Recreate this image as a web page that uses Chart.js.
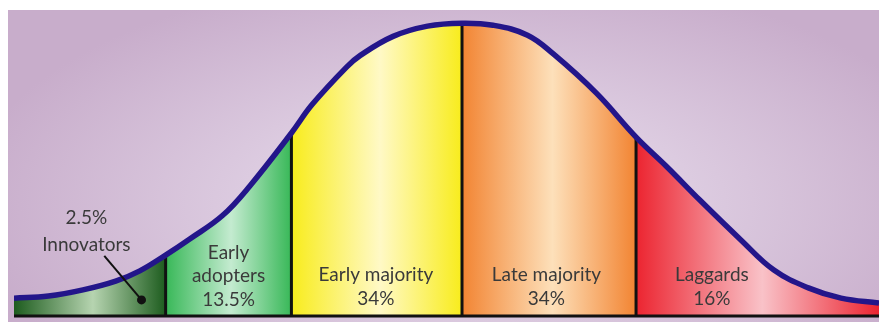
<!DOCTYPE html>
<html>
<head>
<meta charset="utf-8">
<script src="https://cdn.jsdelivr.net/npm/chart.js@4"></script>
<style>
  html, body { margin: 0; padding: 0; background: #fff; }
  #wrap {
    position: absolute; left: 8px; top: 10px; width: 871px; height: 312px;
    background: radial-gradient(ellipse 58% 75% at 53% 62%, #ece2ef 0%, #dccbe0 45%, #c8adcb 100%);
  }
</style>
</head>
<body>
<div id="wrap"><canvas id="curveChart"></canvas></div>
<script>
// adopter categories, left to right
const categories = ['Innovators', 'Early adopters', 'Early majority', 'Late majority', 'Laggards'];
const shares = ['2.5%', '13.5%', '34%', '34%', '16%'];
// x-axis (std. deviations from mean) where each category starts/ends
const bounds = [-2.60, -1.72, -0.99, 0, 1.01, 2.42];

// bell curve (x in std. devs, y relative to peak)
const curveX = [-2.60, -2.40, -2.20, -2.01, -1.87, -1.72, -1.58, -1.39, -1.23, -0.99, -0.87, -0.67, -0.59, -0.40, -0.20, 0, 0.18, 0.38, 0.53, 0.78, 1.01, 1.19, 1.38, 1.62, 1.81, 2.01, 2.20, 2.42];
const curveY = [0.061, 0.068, 0.089, 0.119, 0.154, 0.208, 0.263, 0.343, 0.445, 0.625, 0.722, 0.850, 0.890, 0.955, 0.990, 1.000, 0.993, 0.959, 0.895, 0.761, 0.611, 0.509, 0.396, 0.259, 0.157, 0.096, 0.061, 0.044];

// gradient colours per category: edge, highlight
const edgeColors = ['#1d5c1e', '#38b858', '#f8ec1c', '#f28432', '#ec2430'];
const lightColors = ['#b6d4b0', '#c4ebd0', '#fff9c6', '#fde0ba', '#f9c2c8'];

// label layout (x in axis units, y for each text line)
const labelX = [-2.18, -1.355, -0.50, 0.49, 1.45];
const labelLines = [
  [[shares[0], 0.334], ['Innovators', 0.242]],
  [['Early', 0.215], ['adopters', 0.137], [shares[1], 0.055]],
  [['Early majority', 0.14], [shares[2], 0.058]],
  [['Late majority', 0.14], [shares[3], 0.058]],
  [['Laggards', 0.14], [shares[4], 0.058]]
];

const curve = curveX.map((x, i) => ({ x, y: curveY[i] }));

function heightAt(x) {
  const p = curve.find(pt => pt.x === x);
  return p ? p.y : 0;
}

function bandGradient(ctx) {
  const chart = ctx.chart;
  const area = chart.chartArea;
  if (!area) return null;
  const xs = chart.scales.x;
  const w = area.right - area.left;
  const g = chart.ctx.createLinearGradient(area.left, 0, area.right, 0);
  const f = v => Math.min(1, Math.max(0, (xs.getPixelForValue(v) - area.left) / w));
  for (let i = 0; i < categories.length; i++) {
    const a = f(bounds[i]), b = f(bounds[i + 1]);
    g.addColorStop(a, edgeColors[i]);
    g.addColorStop(a + (b - a) * 0.52, lightColors[i]);
    g.addColorStop(b, edgeColors[i]);
  }
  return g;
}

const dividers = bounds.slice(1, -1).map(b => ({
  data: [{ x: b, y: 0 }, { x: b, y: heightAt(b) }],
  borderColor: '#111',
  borderWidth: 3,
  pointRadius: 0,
  fill: false,
  order: 1
}));

const labelPlugin = {
  id: 'labels',
  afterDatasetsDraw(chart) {
    const { ctx, scales: { x, y } } = chart;
    ctx.save();
    // pointer from "Innovators" into the innovators band
    const x0 = x.getPixelForValue(-2.076), y0 = y.getPixelForValue(0.205);
    const x1 = x.getPixelForValue(-1.86), y1 = y.getPixelForValue(0.055);
    ctx.strokeStyle = '#111';
    ctx.lineWidth = 2;
    ctx.beginPath();
    ctx.moveTo(x0, y0);
    ctx.lineTo(x1, y1);
    ctx.stroke();
    ctx.fillStyle = '#111';
    ctx.beginPath();
    ctx.arc(x1, y1, 4.5, 0, Math.PI * 2);
    ctx.fill();

    ctx.font = '19px Lato';
    ctx.fillStyle = '#3a3a3a';
    ctx.textAlign = 'center';
    ctx.textBaseline = 'middle';
    labelLines.forEach((lines, i) => {
      lines.forEach(([txt, v]) => {
        ctx.fillText(txt, x.getPixelForValue(labelX[i]), y.getPixelForValue(v));
      });
    });
    ctx.restore();
  }
};

new Chart(document.getElementById('curveChart'), {
  type: 'line',
  data: {
    datasets: [
      {
        data: curve,
        borderColor: '#23168a',
        borderWidth: 5.5,
        backgroundColor: bandGradient,
        fill: 'origin',
        pointRadius: 0,
        tension: 0.4,
        order: 0
      },
      ...dividers,
      {
        data: [{ x: bounds[0], y: 0 }, { x: bounds[bounds.length - 1], y: 0 }],
        borderColor: '#111',
        borderWidth: 3,
        pointRadius: 0,
        fill: false,
        clip: 4,
        order: 1
      }
    ]
  },
  options: {
    responsive: true,
    maintainAspectRatio: false,
    animation: false,
    layout: { padding: { left: 6, right: 0, top: 0, bottom: 6 } },
    scales: {
      x: { type: 'linear', min: bounds[0], max: bounds[bounds.length - 1], display: false },
      y: { min: 0, max: 1.045, display: false }
    },
    plugins: {
      legend: { display: false },
      tooltip: { enabled: false },
      filler: { drawTime: 'beforeDatasetsDraw' }
    }
  },
  plugins: [labelPlugin]
});
</script>
</body>
</html>
